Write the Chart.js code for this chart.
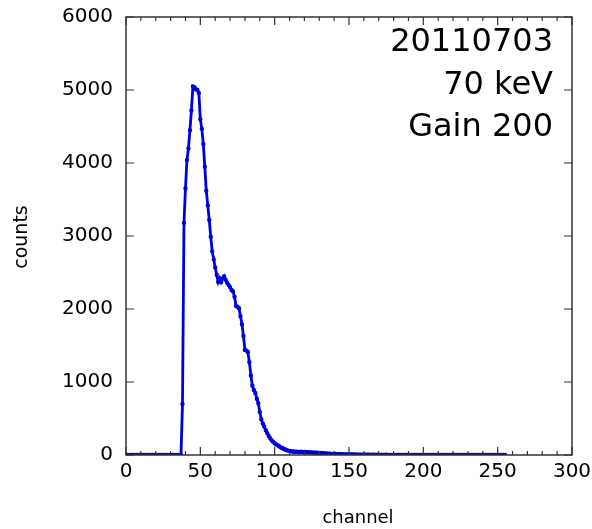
<!DOCTYPE html>
<html>
<head>
<meta charset="utf-8">
<script src="https://cdn.jsdelivr.net/npm/chart.js@4.4.1/dist/chart.umd.min.js"></script>
<style>
  html, body { margin: 0; padding: 0; background: #ffffff; }
  canvas { display: block; }
</style>
</head>
<body>
<canvas id="spectrum" width="592" height="529"></canvas>
<script>
// Pulse-height spectrum: counts per ADC channel (channels 0..255)
const counts = [
  0, 0, 0, 0, 0, 0, 0, 0, 0, 0,
  0, 0, 0, 0, 0, 0, 0, 0, 0, 0,
  0, 0, 0, 0, 0, 0, 0, 0, 0, 0,
  0, 0, 0, 0, 0, 0, 0, 0, 700, 3180,
  3650, 4040, 4200, 4450, 4720, 5050, 5040, 5010, 5000, 4960,
  4600, 4470, 4260, 3950, 3620, 3420, 3220, 2990, 2790, 2680,
  2570, 2470, 2370, 2420, 2370, 2420, 2450, 2400, 2360, 2330,
  2300, 2260, 2240, 2170, 2040, 2030, 2010, 1900, 1790, 1630,
  1440, 1430, 1410, 1270, 1090, 950, 890, 850, 770, 710,
  590, 490, 430, 390, 340, 300, 260, 230, 200, 180,
  160, 145, 135, 120, 105, 95, 85, 76, 68, 60,
  55, 50, 48, 45, 44, 46, 43, 42, 44, 40,
  41, 38, 40, 37, 36, 35, 33, 32, 30, 31,
  28, 27, 25, 24, 22, 21, 19, 18, 16, 15,
  14, 13, 12, 11, 11, 10, 9, 9, 8, 8,
  7, 7, 6, 6, 6, 5, 5, 5, 4, 4,
  4, 3, 4, 3, 3, 2, 3, 3, 2, 3,
  2, 2, 3, 2, 2, 3, 2, 2, 2, 1,
  2, 2, 1, 2, 2, 1, 2, 1, 2, 2,
  1, 2, 1, 1, 2, 1, 1, 2, 1, 1,
  1, 2, 1, 1, 1, 1, 2, 1, 1, 1,
  1, 1, 1, 2, 1, 1, 1, 1, 1, 1,
  1, 1, 1, 1, 1, 1, 1, 1, 1, 1,
  1, 1, 1, 1, 1, 1, 1, 1, 1, 1,
  1, 1, 1, 1, 1, 1, 1, 1, 1, 1,
  1, 1, 1, 1, 1, 1
];

const xRange = [0, 300];
const yRange = [0, 6000];
const xMajorStep = 50;
const xMinorStep = 10;
const yMajorStep = 1000;
const xTitle = 'channel';
const yTitle = 'counts';
const noteLines = ['20110703', '70 keV', 'Gain 200'];

const FONT = "'Comic Sans MS', 'DejaVu Sans', sans-serif";
const INK = '#000000';
const FRAME = '#333333';
const TRACE = '#0000dd';

const points = counts.map((c, i) => ({ x: i, y: c }));

// Frame, inward tick marks, axis titles and the run note
const framePlugin = {
  id: 'frameAndNotes',
  afterDraw(chart) {
    const { ctx, chartArea: a, scales: { x, y } } = chart;
    ctx.save();
    ctx.strokeStyle = FRAME;
    ctx.lineWidth = 1.5;
    ctx.strokeRect(a.left, a.top, a.right - a.left, a.bottom - a.top);

    ctx.lineWidth = 1.2;
    ctx.beginPath();
    for (let v = xRange[0]; v <= xRange[1]; v += xMinorStep) {
      const px = x.getPixelForValue(v);
      const len = (v % xMajorStep === 0) ? 8 : 4;
      ctx.moveTo(px, a.bottom); ctx.lineTo(px, a.bottom - len);
      ctx.moveTo(px, a.top); ctx.lineTo(px, a.top + len);
    }
    for (let v = yRange[0]; v <= yRange[1]; v += yMajorStep) {
      const py = y.getPixelForValue(v);
      ctx.moveTo(a.left, py); ctx.lineTo(a.left + 8, py);
      ctx.moveTo(a.right, py); ctx.lineTo(a.right - 8, py);
    }
    ctx.stroke();

    ctx.fillStyle = INK;
    ctx.font = '18px ' + FONT;
    ctx.textAlign = 'center';
    ctx.textBaseline = 'middle';
    ctx.fillText(xTitle, 358, 518);
    ctx.save();
    ctx.font = '19px ' + FONT;
    ctx.translate(22, 237);
    ctx.rotate(-Math.PI / 2);
    ctx.fillText(yTitle, 0, 0);
    ctx.restore();

    ctx.font = '32px ' + FONT;
    ctx.textAlign = 'right';
    ctx.textBaseline = 'alphabetic';
    const noteBase = [51, 94, 136];
    noteLines.forEach((t, i) => ctx.fillText(t, 553, noteBase[i]));
    ctx.restore();
  }
};

new Chart(document.getElementById('spectrum'), {
  type: 'line',
  data: {
    datasets: [{
      data: points,
      borderColor: TRACE,
      backgroundColor: TRACE,
      borderWidth: 2.8,
      pointRadius: 0.8,
      pointHoverRadius: 0,
      tension: 0,
      fill: false
    }]
  },
  options: {
    responsive: false,
    animation: false,
    events: [],
    layout: { autoPadding: false, padding: { top: 17, right: 20, left: 0, bottom: 0 } },
    plugins: { legend: { display: false }, tooltip: { enabled: false } },
    scales: {
      x: {
        type: 'linear',
        min: xRange[0], max: xRange[1],
        grid: { display: false, drawTicks: false },
        border: { display: false },
        ticks: { stepSize: xMajorStep, color: INK, padding: 5, font: { family: FONT, size: 20 } },
        afterFit(s) { s.height = 74; s.paddingLeft = 0; s.paddingRight = 0; }
      },
      y: {
        min: yRange[0], max: yRange[1],
        grid: { display: false, drawTicks: false },
        border: { display: false },
        ticks: {
          stepSize: yMajorStep, color: INK, padding: 13,
          font: { family: FONT, size: 20 },
          callback: (v) => String(v)
        },
        afterFit(s) { s.width = 126; s.paddingTop = 0; s.paddingBottom = 0; }
      }
    }
  },
  plugins: [framePlugin]
});
</script>
</body>
</html>
